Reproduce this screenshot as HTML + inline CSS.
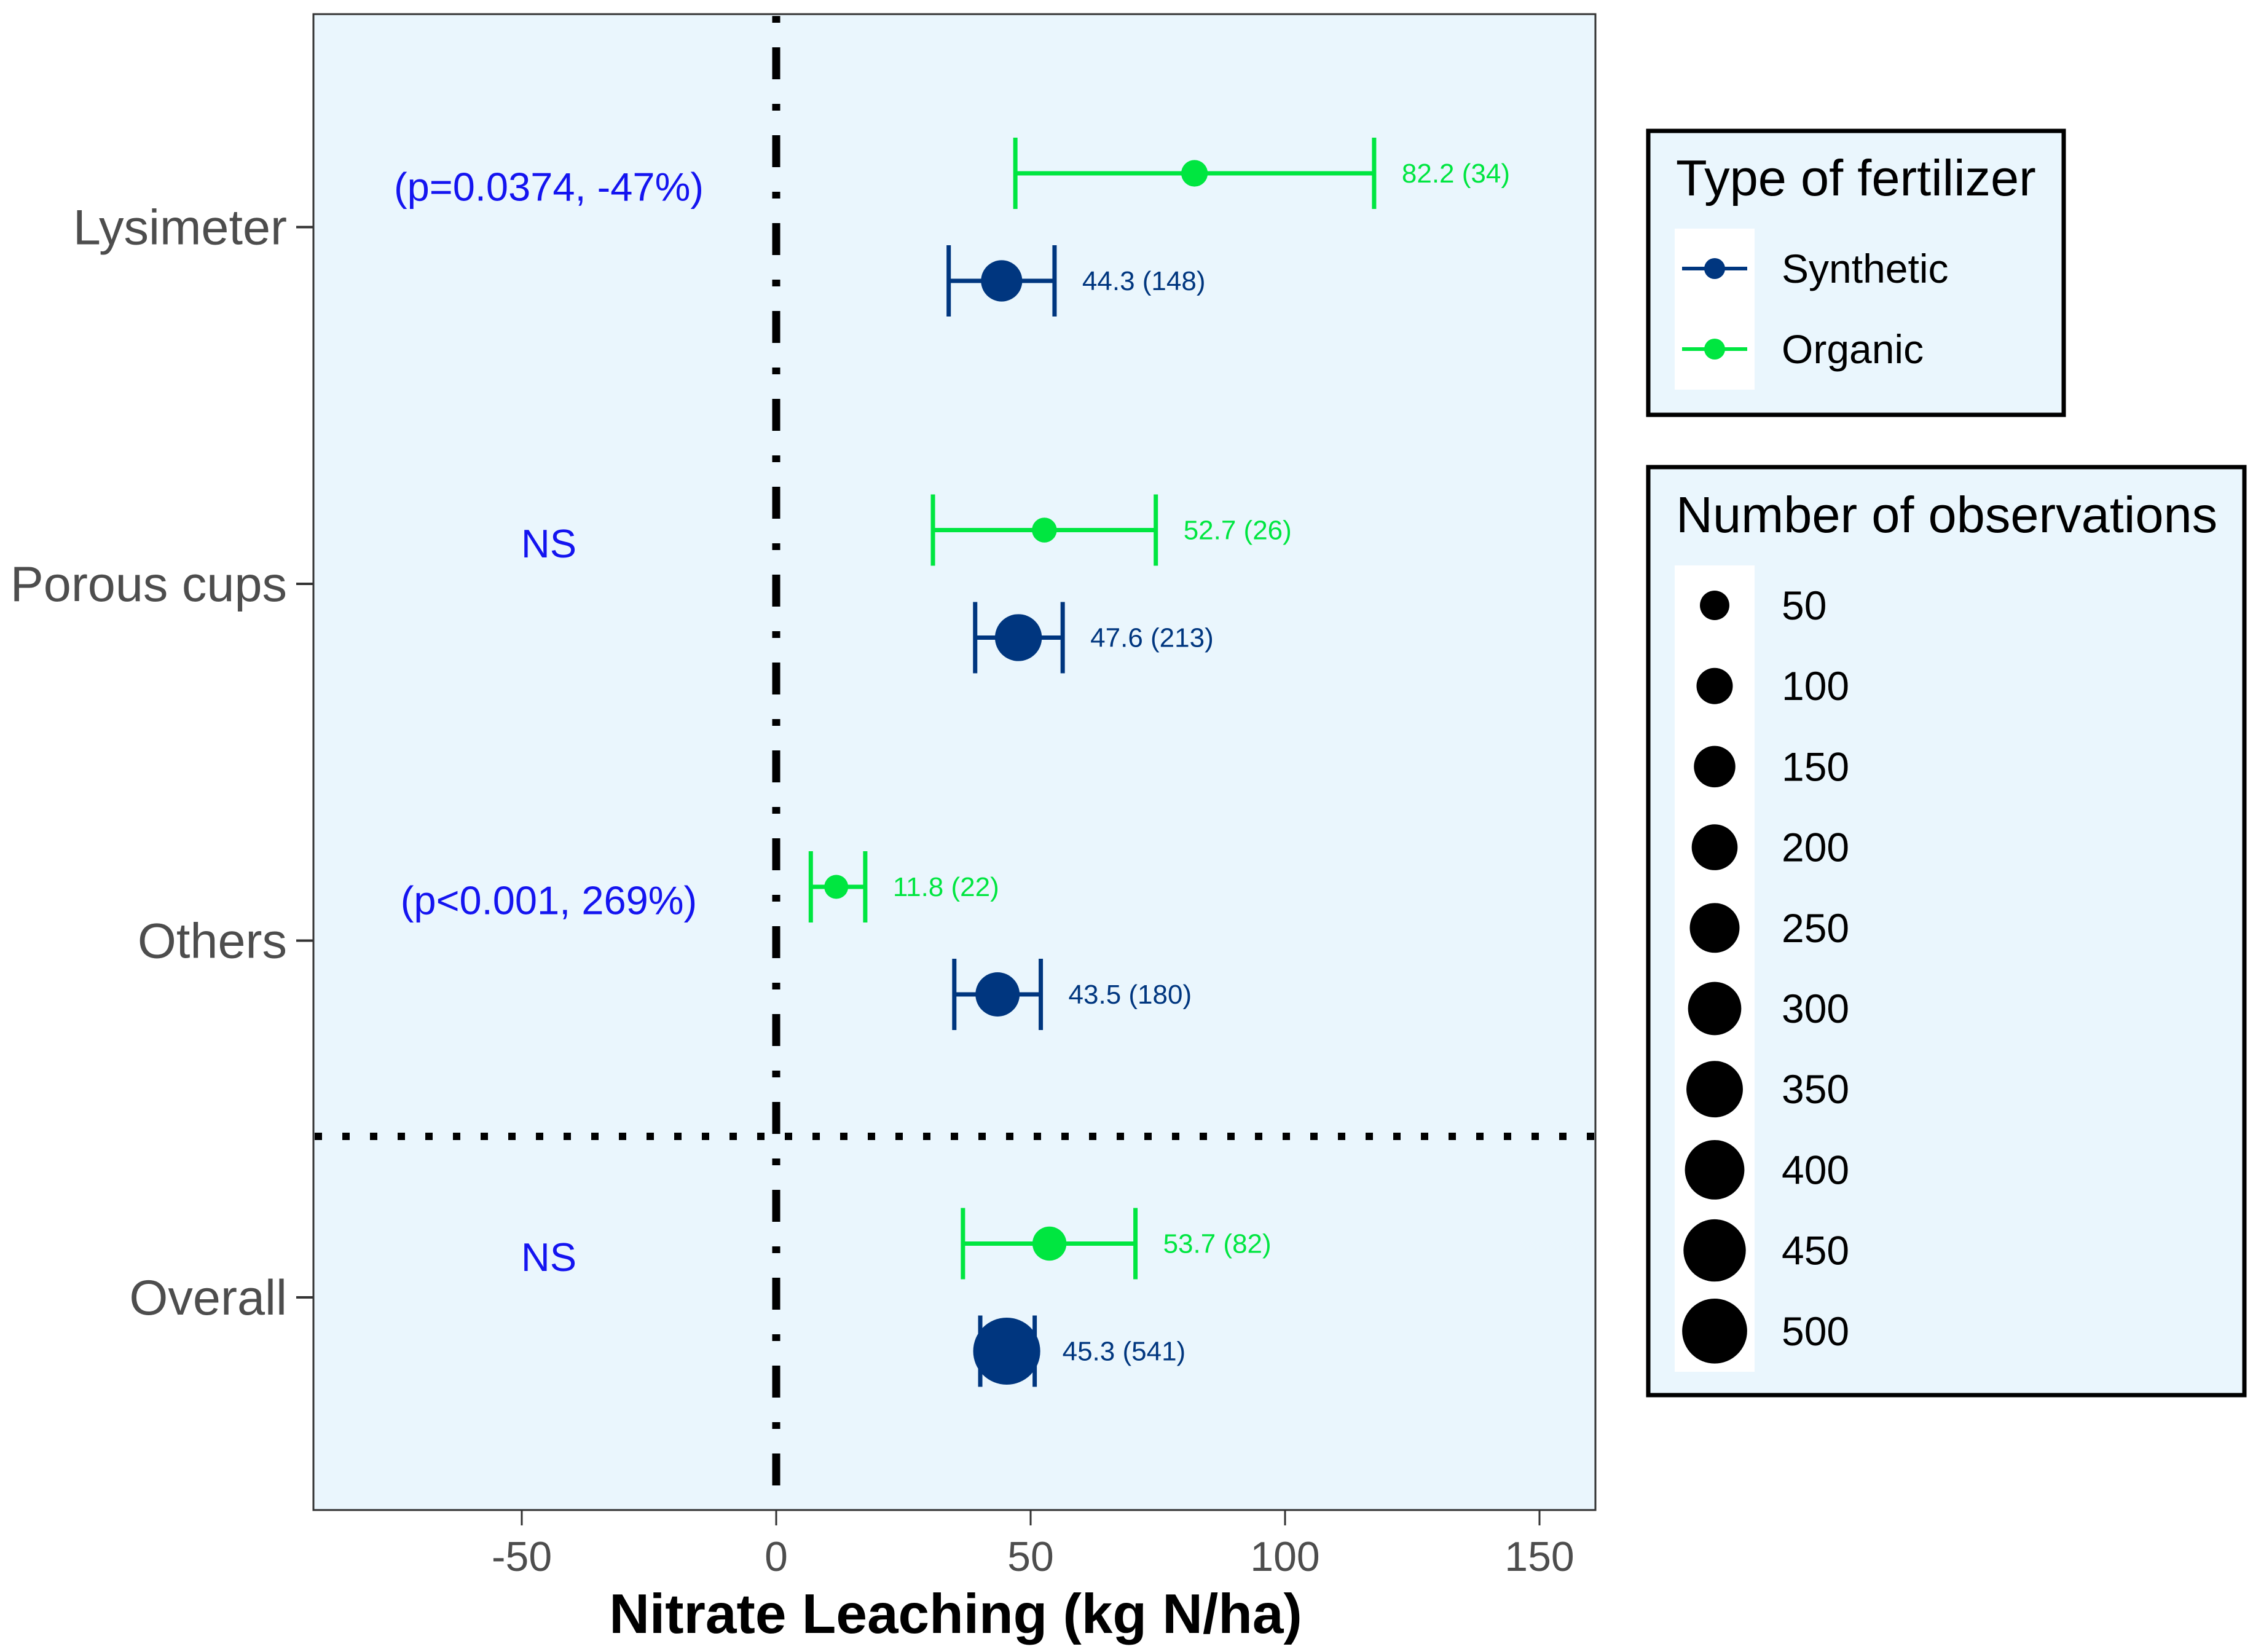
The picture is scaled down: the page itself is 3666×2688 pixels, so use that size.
<!DOCTYPE html>
<html><head><meta charset="utf-8"><style>
html,body{margin:0;padding:0;background:#fff;}
svg{display:block;font-family:"Liberation Sans",sans-serif;}
</style></head><body>
<svg id="chart" width="3666" height="2688" viewBox="0 0 3666 2688" xmlns="http://www.w3.org/2000/svg">
<rect x="0" y="0" width="3666" height="2688" fill="#ffffff"/>
<rect x="510" y="23" width="2086" height="2434" fill="#EAF6FD" stroke="#333333" stroke-width="3"/>
<g id="axes"></g>
<g id="marks"></g>
<text x="1555" y="2657" font-size="91" font-weight="bold" text-anchor="middle" fill="#000">Nitrate Leaching (kg N/ha)</text>

<g>
<rect x="2682" y="213" width="676" height="462" fill="#EAF6FD" stroke="#000" stroke-width="7"/>
<text x="2727" y="318" font-size="83" fill="#000">Type of fertilizer</text>
<rect x="2725" y="372" width="130" height="262" fill="#ffffff"/>
<g>
<line x1="2737" y1="437" x2="2843" y2="437" stroke="#00367F" stroke-width="6"/>
<circle cx="2790" cy="437" r="17" fill="#00367F"/>
<text x="2899" y="460" font-size="66" fill="#000">Synthetic</text>
</g>
<g>
<line x1="2737" y1="568" x2="2843" y2="568" stroke="#00E640" stroke-width="6"/>
<circle cx="2790" cy="568" r="17" fill="#00E640"/>
<text x="2899" y="591" font-size="66" fill="#000">Organic</text>
</g>
</g>

<g>
<rect x="2682" y="760" width="970" height="1510" fill="#EAF6FD" stroke="#000" stroke-width="7"/>
<text x="2727" y="866" font-size="83" fill="#000">Number of observations</text>
<rect x="2725" y="920" width="130" height="1312" fill="#ffffff"/>
<g id="sizeLegend"></g>
</g>

<script>
const categories = ["Lysimeter", "Porous cups", "Others", "Overall"];
const synthMean = [44.3, 47.6, 43.5, 45.3];
const synthLow  = [33.9, 39.1, 35.0, 40.1];
const synthHigh = [54.7, 56.3, 52.0, 50.8];
const synthN    = [148, 213, 180, 541];
const orgMean = [82.2, 52.7, 11.8, 53.7];
const orgLow  = [47.0, 30.8, 6.8, 36.7];
const orgHigh = [117.5, 74.6, 17.5, 70.6];
const orgN    = [34, 26, 22, 82];
const annotations = ["(p=0.0374, -47%)", "NS", "(p<0.001, 269%)", "NS"];
const xTicks = [-50, 0, 50, 100, 150];
const sizeBreaks = [50, 100, 150, 200, 250, 300, 350, 400, 450, 500];

const NS = "http://www.w3.org/2000/svg";
const xS = v => 1263 + v * 8.28;
const yS = i => 369.5 + i * 580.5;
const rS = n => 10.6 + 1.89 * Math.sqrt(n);
const SYN = "#00367F", ORG = "#00E640";
function mk(tag, attrs, parent, txt){
  const e = document.createElementNS(NS, tag);
  for (const k in attrs) e.setAttribute(k, attrs[k]);
  if (txt !== undefined) e.textContent = txt;
  parent.appendChild(e); return e;
}
const axes = document.getElementById("axes");
const marks = document.getElementById("marks");

let vl = mk("line", {x1:xS(0), y1:25, x2:xS(0), y2:2455, stroke:"#000", "stroke-width":13, "stroke-dasharray":"52,40,11,40", "stroke-dashoffset":91}, axes);


let hl = mk("line", {x1:512, y1:1849, x2:2594, y2:1849, stroke:"#000", "stroke-width":12, "stroke-dasharray":"12,33"}, axes);



xTicks.forEach(t => {
  const g = mk("g", {}, axes);
  
  
  mk("line", {x1:xS(t), y1:2457, x2:xS(t), y2:2482, stroke:"#333", "stroke-width":3}, g);
  mk("text", {x:xS(t), y:2556, "font-size":68, fill:"#4D4D4D", "text-anchor":"middle"}, g, String(t));
});
categories.forEach((c, i) => {
  const g = mk("g", {}, axes);
  
  
  mk("line", {x1:482, y1:yS(i), x2:510, y2:yS(i), stroke:"#333", "stroke-width":4}, g);
  mk("text", {x:467, y:yS(i) + 28, "font-size":81, fill:"#4D4D4D", "text-anchor":"end"}, g, c);
});

function series(i, mean, lo, hi, n, y, col, name){
  const g = mk("g", {}, marks);
  
  
  mk("line", {x1:xS(lo), y1:y, x2:xS(hi), y2:y, stroke:col, "stroke-width":7}, g);
  mk("line", {x1:xS(lo), y1:y-58, x2:xS(lo), y2:y+58, stroke:col, "stroke-width":7}, g);
  mk("line", {x1:xS(hi), y1:y-58, x2:xS(hi), y2:y+58, stroke:col, "stroke-width":7}, g);
  mk("circle", {cx:xS(mean), cy:y, r:rS(n), fill:col}, g);
  mk("text", {x:xS(hi) + 45, y:y + 15, "font-size":44, fill:col}, g, mean.toFixed(1) + " (" + n + ")");
}
categories.forEach((c, i) => {
  series(i, orgMean[i], orgLow[i], orgHigh[i], orgN[i], yS(i) - 87.5, ORG, 'organic');
  series(i, synthMean[i], synthLow[i], synthHigh[i], synthN[i], yS(i) + 87.5, SYN, 'synthetic');
  const a = mk("text", {x:893, y:yS(i) - 43, "font-size":65, fill:"#1414F0", "text-anchor":"middle"}, marks, annotations[i]);
  
  
});

const sl = document.getElementById("sizeLegend");
sizeBreaks.forEach((b, k) => {
  const y = 985 + k * 131.2;
  const g = mk("g", {}, sl);
  
  
  mk("circle", {cx:2790, cy:y, r:rS(b), fill:"#000"}, g);
  mk("text", {x:2899, y:y + 23, "font-size":66, fill:"#000"}, g, String(b));
});
</script>
</svg>
</body></html>
